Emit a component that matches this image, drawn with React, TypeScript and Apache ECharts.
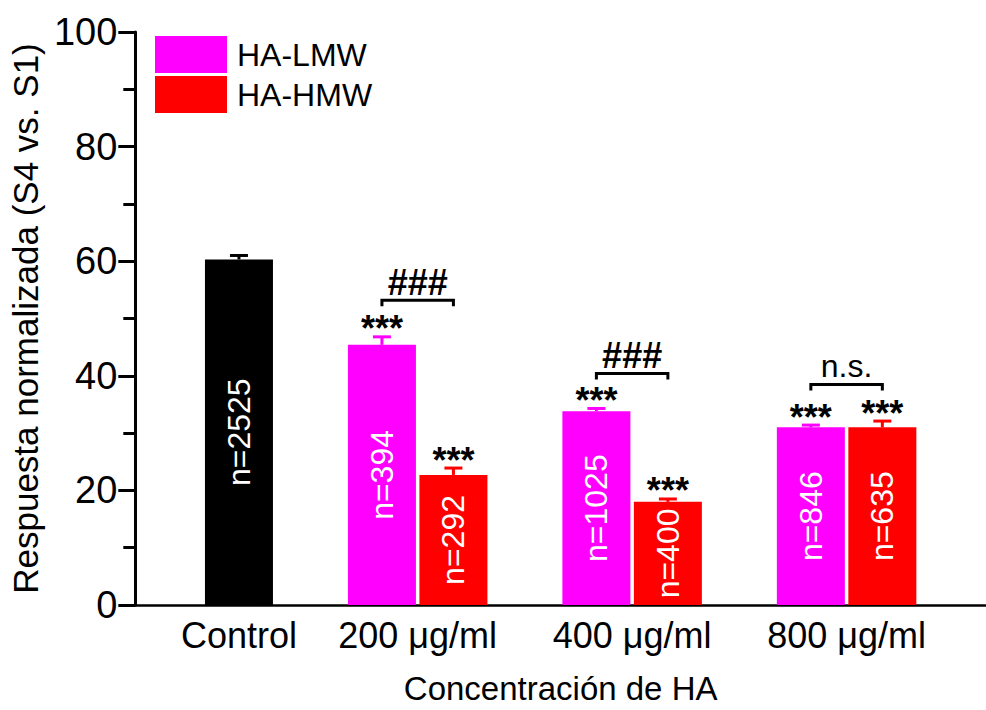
import React, { useEffect, useRef } from 'react';
import * as echarts from 'echarts';

// Group labels along the x axis and legend entries
const groupLabels = ['Control', '200 μg/ml', '400 μg/ml', '800 μg/ml'];
const seriesNames = ['HA-LMW', 'HA-HMW'];

// Control group
const controlMean = 60.3;
const controlSem = 0.7;
const controlN = 2525;

// Low molecular weight HA (200, 400, 800 μg/ml)
const lmwMean = [45.4, 33.8, 31.0];
const lmwSem = [1.4, 0.5, 0.4];
const lmwN = [394, 1025, 846];
const lmwStars = ['***', '***', '***'];

// High molecular weight HA (200, 400, 800 μg/ml)
const hmwMean = [22.7, 18.0, 31.0];
const hmwSem = [1.2, 0.5, 1.1];
const hmwN = [292, 400, 635];
const hmwStars = ['***', '***', '***'];

// LMW vs HMW comparison brackets per concentration
const pairLevel = [53.2, 40.4, 38.5];
const pairLabel = ['###', '###', 'n.s.'];

const FONT = '"Liberation Sans", Arial, Helvetica, sans-serif';
const PINK = '#ff00ff';
const RED = '#ff0000';

// x positions on the value axis: control at 0, then pairs of bars per concentration
const lmwX = (i: number) => 6 * (i + 1) - 2;
const hmwX = (i: number) => 6 * (i + 1);
const groupCenter = (g: number) => (g === 0 ? 0 : 6 * g - 1);

function errorSeries(color: string, rows: number[][], stars: string[]) {
  return {
    type: 'custom',
    data: rows,
    encode: { x: 0, y: 1 },
    z: 5,
    silent: true,
    renderItem: (params: any, api: any) => {
      const x = api.value(0);
      const m = api.value(1);
      const s = api.value(2);
      const base = api.coord([x, m]);
      const top = api.coord([x, m + s]);
      const children: any[] = [
        {
          type: 'line',
          shape: { x1: base[0], y1: base[1], x2: top[0], y2: top[1] },
          style: { stroke: color, lineWidth: 3 },
        },
        {
          type: 'line',
          shape: { x1: top[0] - 9, y1: top[1], x2: top[0] + 9, y2: top[1] },
          style: { stroke: color, lineWidth: 3 },
        },
      ];
      const label = stars[params.dataIndex];
      if (label) {
        children.push({
          type: 'text',
          x: top[0],
          y: top[1] - 8,
          style: {
            text: label,
            fontSize: 36,
            fontWeight: 'bold',
            fontFamily: FONT,
            fill: '#000',
            align: 'center',
            verticalAlign: 'middle',
          },
        });
      }
      return { type: 'group', children };
    },
  };
}

function buildOption() {
  const barLabel = {
    show: true,
    position: 'inside',
    rotate: 90,
    color: '#fff',
    fontSize: 32,
    fontFamily: FONT,
  };
  const barBase = { type: 'bar', barWidth: 68, barGap: '-100%', z: 2 };

  const bracketRows = pairLevel.map((lv, i) => [lmwX(i), hmwX(i), lv]);

  return {
    animation: false,
    backgroundColor: '#fff',
    textStyle: { fontFamily: FONT },
    grid: { left: 130, right: 0, top: 32, bottom: 101, containLabel: false },
    legend: {
      data: seriesNames,
      orient: 'vertical',
      left: 155,
      top: 36,
      padding: 0,
      itemWidth: 72,
      itemHeight: 37,
      itemGap: 3,
      icon: 'rect',
      selectedMode: false,
      textStyle: { fontSize: 32, color: '#000', fontFamily: FONT, padding: [0, 0, 0, 5] },
    },
    xAxis: {
      type: 'value',
      min: -2.9,
      max: 20.9,
      interval: 0.1,
      name: 'Concentración de HA',
      nameLocation: 'middle',
      nameGap: 67,
      nameTextStyle: { fontSize: 33, color: '#000', fontFamily: FONT },
      axisLine: { show: true, onZero: false, lineStyle: { color: '#000', width: 2.5 } },
      axisTick: { show: false },
      splitLine: { show: false },
      axisLabel: {
        show: true,
        margin: 12,
        fontSize: 36,
        color: '#000',
        fontFamily: FONT,
        showMinLabel: true,
        showMaxLabel: false,
        formatter: (v: number) => {
          for (let g = 0; g < groupLabels.length; g++) {
            if (Math.abs(v - groupCenter(g)) < 0.01) return groupLabels[g];
          }
          return '';
        },
      },
    },
    yAxis: {
      type: 'value',
      min: 0,
      max: 100,
      interval: 20,
      name: 'Respuesta normalizada (S4 vs. S1)',
      nameLocation: 'middle',
      nameGap: 80,
      nameTextStyle: { fontSize: 35, color: '#000', fontFamily: FONT },
      axisLine: { show: true, onZero: false, lineStyle: { color: '#000', width: 3 } },
      axisTick: { show: true, length: 17, lineStyle: { color: '#000', width: 3 } },
      minorTick: { show: true, splitNumber: 2, length: 12, lineStyle: { color: '#000', width: 3 } },
      splitLine: { show: false },
      axisLabel: { margin: 18, fontSize: 38, color: '#000', fontFamily: FONT },
    },
    series: [
      {
        ...barBase,
        name: 'Control',
        data: [[groupCenter(0), controlMean]],
        itemStyle: { color: '#000' },
        label: { ...barLabel, formatter: () => 'n=' + controlN },
      },
      {
        ...barBase,
        name: seriesNames[0],
        data: lmwMean.map((v, i) => [lmwX(i), v]),
        itemStyle: { color: PINK },
        label: { ...barLabel, formatter: (p: any) => 'n=' + lmwN[p.dataIndex] },
      },
      {
        ...barBase,
        name: seriesNames[1],
        data: hmwMean.map((v, i) => [hmwX(i), v]),
        itemStyle: { color: RED },
        label: { ...barLabel, formatter: (p: any) => 'n=' + hmwN[p.dataIndex] },
      },
      errorSeries('#000', [[groupCenter(0), controlMean, controlSem]], ['']),
      errorSeries(PINK, lmwMean.map((v, i) => [lmwX(i), v, lmwSem[i]]), lmwStars),
      errorSeries(RED, hmwMean.map((v, i) => [hmwX(i), v, hmwSem[i]]), hmwStars),
      {
        type: 'custom',
        data: bracketRows,
        encode: { x: [0, 1], y: 2 },
        z: 5,
        silent: true,
        renderItem: (params: any, api: any) => {
          const p1 = api.coord([api.value(0), api.value(2)]);
          const p2 = api.coord([api.value(1), api.value(2)]);
          const label = pairLabel[params.dataIndex];
          const bold = label.startsWith('#');
          return {
            type: 'group',
            children: [
              {
                type: 'polyline',
                shape: {
                  points: [
                    [p1[0], p1[1] + 6],
                    [p1[0], p1[1]],
                    [p2[0], p2[1]],
                    [p2[0], p2[1] + 6],
                  ],
                },
                style: { stroke: '#000', lineWidth: 3, fill: 'none' },
              },
              {
                type: 'text',
                x: (p1[0] + p2[0]) / 2,
                y: p1[1] - 18,
                style: {
                  text: label,
                  fontSize: bold ? 36 : 32,
                  fontWeight: bold ? 'bold' : 'normal',
                  fontFamily: FONT,
                  fill: '#000',
                  align: 'center',
                  verticalAlign: 'middle',
                },
              },
            ],
          };
        },
      },
    ],
  };
}

export default function App() {
  const ref = useRef<HTMLDivElement>(null);
  useEffect(() => {
    if (!ref.current) return;
    const chart = echarts.init(ref.current, undefined, { renderer: 'svg' });
    chart.setOption(buildOption() as any);
    return () => chart.dispose();
  }, []);
  return (
    <div
      ref={ref}
      style={{ position: 'fixed', left: 0, top: 0, width: 986, height: 710, background: '#fff' }}
    />
  );
}
